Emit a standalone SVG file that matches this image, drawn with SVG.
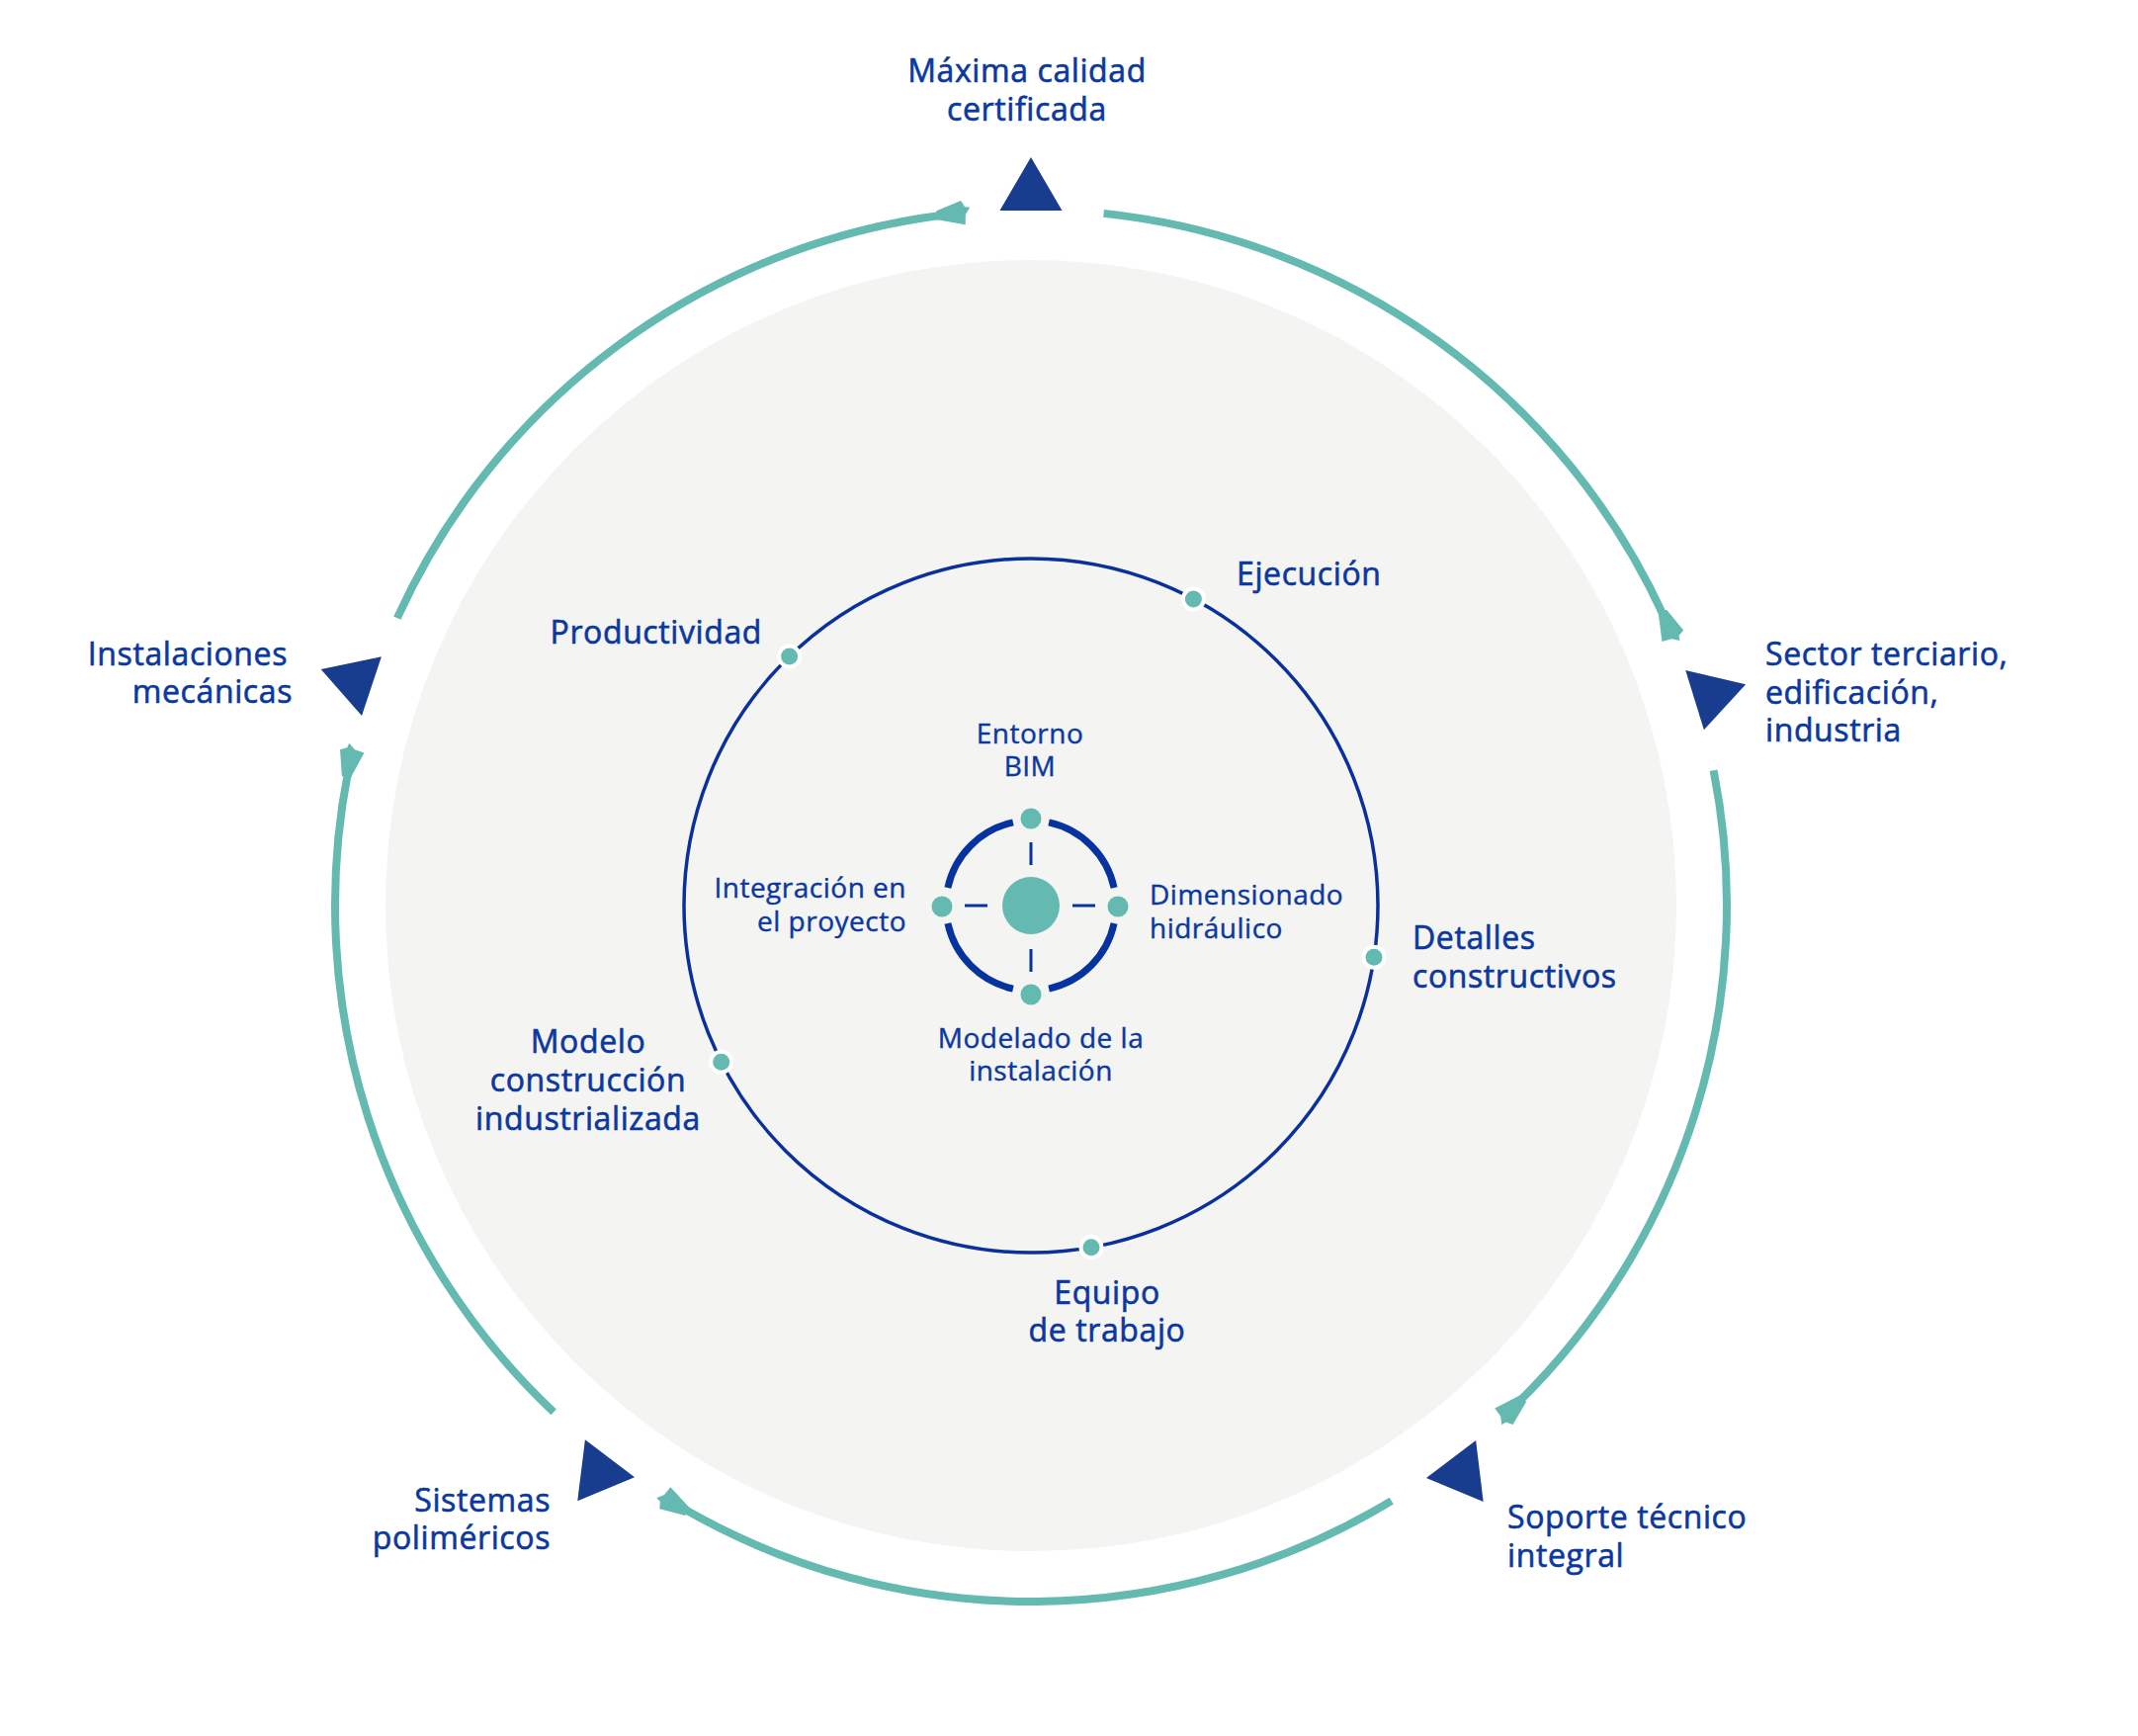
<svg xmlns="http://www.w3.org/2000/svg" width="2163" height="1756" viewBox="0 0 2163 1756">
  <style>
    .t { font-family: "Open Sans", "Noto Sans", "DejaVu Sans", sans-serif; fill: #0b38a0; stroke: #0b38a0; stroke-width: 0.6px; font-weight: 500; }
    .big { font-size: 32px; letter-spacing: 0.6px; }
    .small { font-size: 28px; letter-spacing: 0.5px; stroke-width: 0.4px; }
    .ring { fill: none; stroke: #64bab0; stroke-width: 8; }
    .tail { fill: #64bab0; }
    .tri { fill: #183c8e; }
    .dot { fill: #64bab0; stroke: #ffffff; stroke-width: 4; }
    .bdot { fill: #64bab0; }
    .barc { fill: none; stroke: #0633a0; stroke-width: 7; }
    .tick { stroke: #0633a0; stroke-width: 3; }
  </style>
  <defs>
    <polygon id="tailShape" points="-34,-4.5 -8.5,-12.5 -5,-6 0,-5 -5,2 -6,12 -34,4.5"/>
    <polygon id="triShape" points="-31.5,1 31.5,1 0,-53"/>
  </defs>
  <rect width="2163" height="1756" fill="#ffffff"/>
  <circle cx="1043" cy="916" r="653" fill="#f4f4f2"/>

  <g id="connectors">
    <path class="ring" d="M1116.59,215.86 A704,704 0 0 1 1684.12,625.18"/>
    <path class="ring" d="M1733.60,779.26 A704,704 0 0 1 1535.56,1418.99"/>
    <path class="ring" d="M1407.69,1518.17 A704,704 0 0 1 689.94,1525.07"/>
    <path class="ring" d="M560.18,1428.35 A704,704 0 0 1 352.40,779.26"/>
    <path class="ring" d="M401.88,625.18 A704,704 0 0 1 954.77,217.55"/>
    <use href="#tailShape" class="tail" transform="translate(1043,916) rotate(67.8) translate(0,-704)"/>
    <use href="#tailShape" class="tail" transform="translate(1043,916) rotate(137.8) translate(0,-704)"/>
    <use href="#tailShape" class="tail" transform="translate(1043,916) rotate(212.3) translate(0,-704)"/>
    <use href="#tailShape" class="tail" transform="translate(1043,916) rotate(283.4) translate(0,-704)"/>
    <use href="#tailShape" class="tail" transform="translate(1043,916) rotate(355) translate(0,-704)"/>
    <circle cx="1043" cy="916" r="351" fill="none" stroke="#0a309c" stroke-width="3.5"/>
  </g>

  <g id="node-maxima">
    <use href="#triShape" class="tri" transform="translate(1043,916) rotate(0) translate(0,-704)"/>
    <text class="t big" x="1039" y="83" text-anchor="middle">Máxima calidad</text>
    <text class="t big" x="1039" y="122" text-anchor="middle">certificada</text>
  </g>
  <g id="node-sector">
    <use href="#triShape" class="tri" transform="translate(1043,916) rotate(72.8) translate(0,-704)"/>
    <text class="t big" x="1786" y="673">Sector terciario,</text>
    <text class="t big" x="1786" y="712">edificación,</text>
    <text class="t big" x="1786" y="750">industria</text>
  </g>
  <g id="node-soporte">
    <use href="#triShape" class="tri" transform="translate(1043,916) rotate(142.8) translate(0,-704)"/>
    <text class="t big" x="1525" y="1546">Soporte técnico</text>
    <text class="t big" x="1525" y="1585">integral</text>
  </g>
  <g id="node-sistemas">
    <use href="#triShape" class="tri" transform="translate(1043,916) rotate(217.3) translate(0,-704)"/>
    <text class="t big" x="557" y="1529" text-anchor="end">Sistemas</text>
    <text class="t big" x="557" y="1567" text-anchor="end">poliméricos</text>
  </g>
  <g id="node-instalaciones">
    <use href="#triShape" class="tri" transform="translate(1043,916) rotate(288.4) translate(0,-704)"/>
    <text class="t big" x="291" y="673" text-anchor="end">Instalaciones</text>
    <text class="t big" x="296" y="711" text-anchor="end">mecánicas</text>
  </g>

  <g id="node-productividad">
    <circle class="dot" cx="798.6" cy="664" r="10.5"/>
    <text class="t big" x="771" y="651" text-anchor="end">Productividad</text>
  </g>
  <g id="node-ejecucion">
    <circle class="dot" cx="1207.4" cy="605.9" r="10.5"/>
    <text class="t big" x="1251" y="592">Ejecución</text>
  </g>
  <g id="node-detalles">
    <circle class="dot" cx="1390" cy="968.2" r="10.5"/>
    <text class="t big" x="1429" y="960">Detalles</text>
    <text class="t big" x="1429" y="999">constructivos</text>
  </g>
  <g id="node-equipo">
    <circle class="dot" cx="1104" cy="1261.7" r="10.5"/>
    <text class="t big" x="1120" y="1319" text-anchor="middle">Equipo</text>
    <text class="t big" x="1120" y="1357" text-anchor="middle">de trabajo</text>
  </g>
  <g id="node-modelo">
    <circle class="dot" cx="729.7" cy="1074.2" r="10.5"/>
    <text class="t big" x="595" y="1065" text-anchor="middle">Modelo</text>
    <text class="t big" x="595" y="1104" text-anchor="middle">construcción</text>
    <text class="t big" x="595" y="1143" text-anchor="middle">industrializada</text>
  </g>

  <g id="node-bim">
    <path class="barc" d="M1061.1,831.9 A86,86 0 0 1 1127.1,897.9"/>
    <path class="barc" d="M1127.1,934.1 A86,86 0 0 1 1061.1,1000.1"/>
    <path class="barc" d="M1024.9,1000.1 A86,86 0 0 1 958.9,934.1"/>
    <path class="barc" d="M958.9,897.9 A86,86 0 0 1 1024.9,831.9"/>
    <line class="tick" x1="1043" y1="852" x2="1043" y2="875"/>
    <line class="tick" x1="1043" y1="960" x2="1043" y2="983"/>
    <line class="tick" x1="976" y1="916" x2="999" y2="916"/>
    <line class="tick" x1="1085" y1="916" x2="1108" y2="916"/>
    <circle class="bdot" cx="1043" cy="916" r="29"/>
  </g>
  <g id="node-entorno">
    <circle class="bdot" cx="1043" cy="828" r="10.5"/>
    <text class="t small" x="1042" y="752" text-anchor="middle">Entorno</text>
    <text class="t small" x="1042" y="785" text-anchor="middle">BIM</text>
  </g>
  <g id="node-dimensionado">
    <circle class="bdot" cx="1131" cy="917" r="10.5"/>
    <text class="t small" x="1163" y="915">Dimensionado</text>
    <text class="t small" x="1163" y="949">hidráulico</text>
  </g>
  <g id="node-modelado">
    <circle class="bdot" cx="1043" cy="1006" r="10.5"/>
    <text class="t small" x="1053" y="1060" text-anchor="middle">Modelado de la</text>
    <text class="t small" x="1053" y="1093" text-anchor="middle">instalación</text>
  </g>
  <g id="node-integracion">
    <circle class="bdot" cx="953" cy="917" r="10.5"/>
    <text class="t small" x="917" y="908" text-anchor="end">Integración en</text>
    <text class="t small" x="917" y="942" text-anchor="end">el proyecto</text>
  </g>
</svg>
